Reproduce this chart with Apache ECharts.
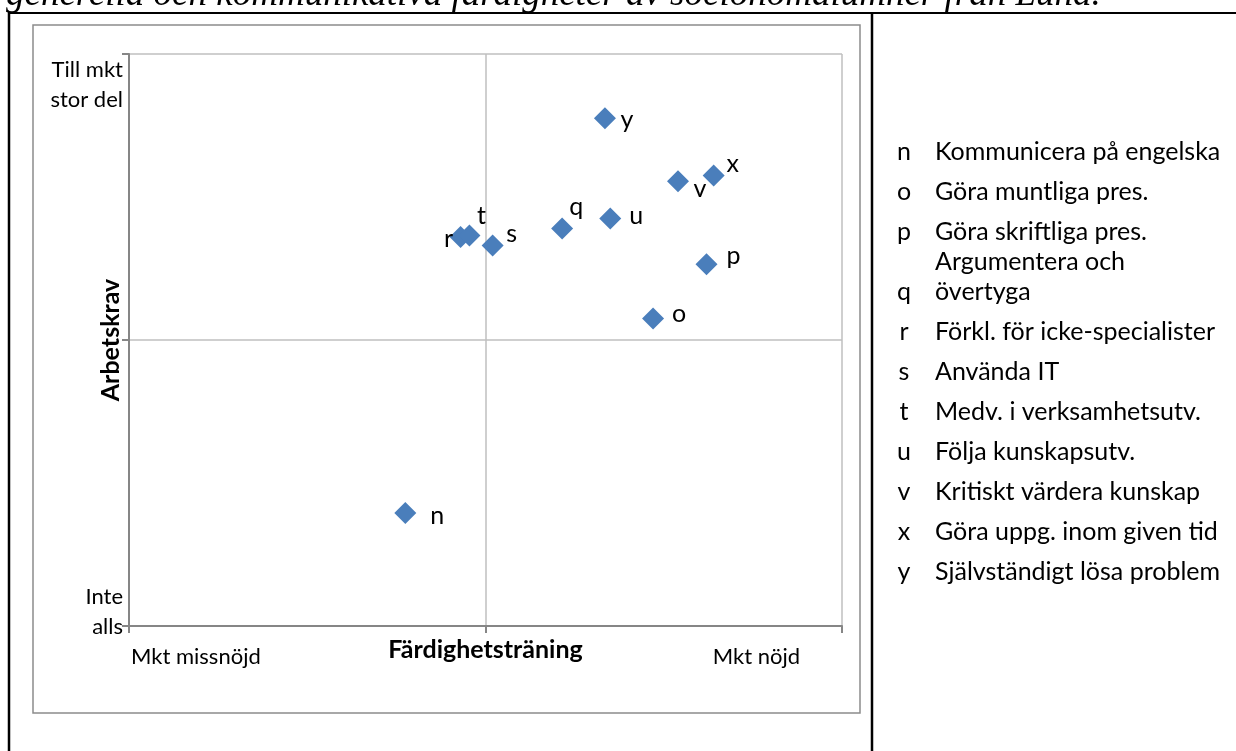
<!DOCTYPE html>
<html>
<head>
<meta charset="utf-8">
<script src="https://cdn.jsdelivr.net/npm/echarts@6/dist/echarts.min.js"></script>
<style>
  html, body { margin: 0; padding: 0; background: #fff; }
  #chart { width: 1236px; height: 751px; }
</style>
</head>
<body>
<div id="chart"></div>
<script>
// kodbokstav per färdighet
const codes = ["n", "o", "p", "q", "r", "s", "t", "u", "v", "x", "y"];
// Färdighetsträning (x) och Arbetskrav (y), 0 = lägst, 4 = högst
const skillValues = [1.55, 2.94, 3.24, 2.43, 1.86, 2.04, 1.91, 2.70, 3.08, 3.28, 2.67];
const demandValues = [0.79, 2.15, 2.53, 2.78, 2.72, 2.66, 2.73, 2.85, 3.11, 3.15, 3.55];
const descriptions = [
  "Kommunicera på engelska",
  "Göra muntliga pres.",
  "Göra skriftliga pres.",
  "Argumentera och\növertyga",
  "Förkl. för icke-specialister",
  "Använda IT",
  "Medv. i verksamhetsutv.",
  "Följa kunskapsutv.",
  "Kritiskt värdera kunskap",
  "Göra uppg. inom given tid",
  "Självständigt lösa problem"
];
const xTickLabels = ["Mkt missnöjd", "Mkt nöjd"];
const yTickLabels = ["Inte\nalls", "Till mkt\nstor del"];
const titleText = "generella och kommunikativa färdigheter av socionomalumner från Lund.";

// etiketternas förskjutning från punkten (som i originalet)
const labelOffset = {
  n: [32, 3], o: [26, -5], p: [27, -8], q: [14, -22], r: [-12, 2], s: [19, -12],
  t: [12, -20], u: [26, -3], v: [22, 8], x: [19, -12], y: [22, 2]
};

const font = "Lato";
const lineColor = "#868686";

// teckenförklaring i högra tabellcellen
const legendItems = [];
let rowY = 112;
descriptions.forEach((d, i) => {
  const lines = d.split("\n");
  const firstY = rowY + (lines.length > 1 ? 30 : 40);
  const lastY = firstY + 30 * (lines.length - 1);
  legendItems.push({
    type: "text",
    style: { text: codes[i], x: 904, y: lastY, align: "center", verticalAlign: "middle",
      font: "25px " + font, fill: "#000" }
  });
  legendItems.push({
    type: "text",
    style: { text: d, x: 935, y: firstY - 15, align: "left", verticalAlign: "top",
      lineHeight: 30, font: "25px " + font, fill: "#000" }
  });
  rowY = lastY;
});

const chart = echarts.init(document.getElementById("chart"));
chart.setOption({
  animation: false,
  grid: { left: 129, right: 394, top: 54, bottom: 125, outerBoundsMode: "none" },
  xAxis: {
    type: "value",
    min: 0,
    max: 4,
    interval: 2,
    name: "Färdighetsträning",
    nameLocation: "middle",
    nameGap: 11,
    nameTextStyle: { fontFamily: font, fontSize: 25, fontWeight: "bold", color: "#000" },
    axisLine: { onZero: false, lineStyle: { color: lineColor, width: 2 } },
    axisTick: { show: true, length: 7, lineStyle: { color: lineColor, width: 2 } },
    axisLabel: { show: false },
    splitLine: { show: true, lineStyle: { color: "#BFBFBF", width: 1.5 } }
  },
  yAxis: {
    type: "value",
    min: 0,
    max: 4,
    interval: 2,
    name: "Arbetskrav",
    nameLocation: "middle",
    nameGap: 6,
    nameTextStyle: { fontFamily: font, fontSize: 25, fontWeight: "bold", color: "#000" },
    axisLine: { onZero: false, lineStyle: { color: lineColor, width: 2 } },
    axisTick: { show: true, length: 7, lineStyle: { color: lineColor, width: 2 } },
    axisLabel: { show: false },
    splitLine: { show: true, lineStyle: { color: "#BFBFBF", width: 1.5 } }
  },
  series: [
    {
      type: "scatter",
      symbol: "diamond",
      symbolSize: 22,
      itemStyle: { color: "#4A7EBB", opacity: 1 },
      emphasis: { disabled: true },
      label: {
        show: true,
        position: "inside",
        formatter: (p) => p.name,
        fontFamily: font,
        fontSize: 25,
        color: "#000"
      },
      data: codes.map((c, i) => ({
        name: c,
        value: [skillValues[i], demandValues[i]],
        label: { offset: labelOffset[c] }
      }))
    }
  ],
  graphic: [
    // rubrikrad (avskuren upptill)
    { type: "text", style: { text: titleText, x: 6, y: -5, verticalAlign: "middle",
        font: "italic 37px 'Liberation Serif'", fill: "#000" } },
    // tabellens linjer
    { type: "line", shape: { x1: 9, y1: 13, x2: 1236, y2: 13 }, style: { stroke: "#000", lineWidth: 2 } },
    { type: "line", shape: { x1: 9, y1: 12, x2: 9, y2: 751 }, style: { stroke: "#000", lineWidth: 2.5 } },
    { type: "line", shape: { x1: 872, y1: 12, x2: 872, y2: 751 }, style: { stroke: "#000", lineWidth: 2.5 } },
    // diagramram
    { type: "rect", shape: { x: 33, y: 25, width: 827, height: 688 }, z: -1,
      style: { fill: "none", stroke: "#8C8C8C", lineWidth: 1.5 } },
    // ändpunkternas texter
    { type: "text", style: { text: yTickLabels[1], x: 123, y: 55, align: "right", verticalAlign: "top",
        lineHeight: 30, font: "22px " + font, fill: "#000" } },
    { type: "text", style: { text: yTickLabels[0], x: 123, y: 582, align: "right", verticalAlign: "top",
        lineHeight: 30, font: "22px " + font, fill: "#000" } },
    { type: "text", style: { text: xTickLabels[0], x: 131, y: 657, align: "left", verticalAlign: "middle",
        font: "22px " + font, fill: "#000" } },
    { type: "text", style: { text: xTickLabels[1], x: 800, y: 657, align: "right", verticalAlign: "middle",
        font: "22px " + font, fill: "#000" } }
  ].concat(legendItems)
});
</script>
</body>
</html>
